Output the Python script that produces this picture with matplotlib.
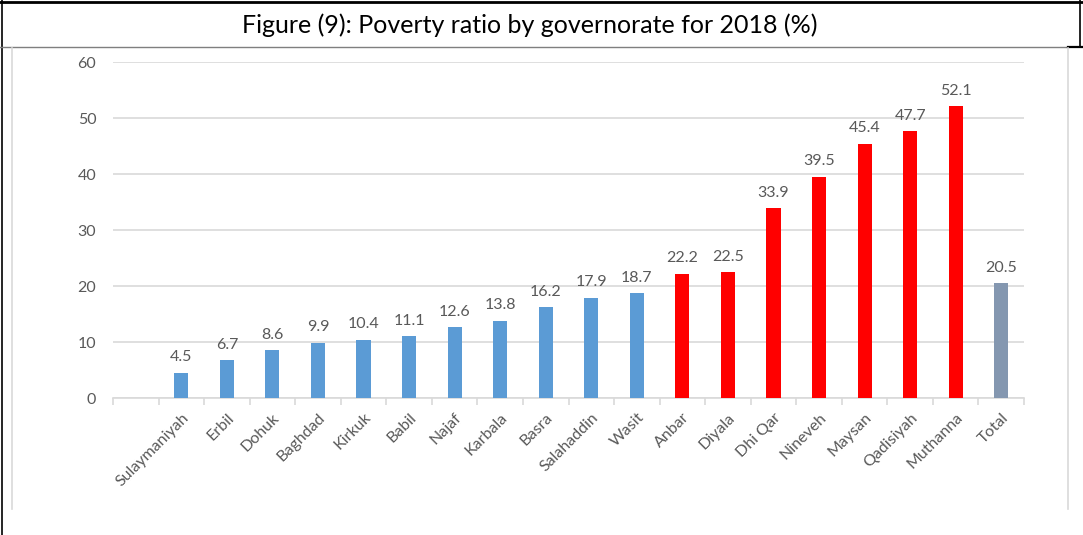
import matplotlib.pyplot as plt
from matplotlib.lines import Line2D

plt.rcParams['font.family'] = ['Lato', 'DejaVu Sans']

governorates = ["Sulaymaniyah", "Erbil", "Dohuk", "Baghdad", "Kirkuk", "Babil", "Najaf",
                "Karbala", "Basra", "Salahaddin", "Wasit", "Anbar", "Diyala", "Dhi Qar",
                "Nineveh", "Maysan", "Qadisiyah", "Muthanna", "Total"]
poverty = [4.5, 6.7, 8.6, 9.9, 10.4, 11.1, 12.6, 13.8, 16.2, 17.9, 18.7,
           22.2, 22.5, 33.9, 39.5, 45.4, 47.7, 52.1, 20.5]
group = ["low"] * 11 + ["high"] * 7 + ["total"]

colours = {"low": "#5B9BD5", "high": "#FF0000", "total": "#8497B0"}
grey_text = "#595959"
grid_c = "#D9D9D9"

W, H = 1083, 535
fig = plt.figure(figsize=(W / 100, H / 100), dpi=100)
ax = fig.add_axes([113 / W, (H - 398) / H, 911 / W, 336 / H])

# first slot on the axis is left empty, like the original
xpos = list(range(1, len(governorates) + 1))
bars = ax.bar(xpos, poverty, width=0.31, color=[colours[g] for g in group], zorder=3)
for b, v in zip(bars, poverty):
    ax.annotate(f"{v}", (b.get_x() + b.get_width() / 2, v), xytext=(0, 6),
                textcoords="offset points", ha="center", va="bottom",
                fontsize=11.5, color=grey_text)

ax.set_xlim(-0.5, len(governorates) + 0.5)
ax.set_ylim(0, 60)
ax.set_yticks(range(0, 61, 10))
ax.yaxis.grid(True, color=grid_c, linewidth=1.2, zorder=0)
ax.tick_params(axis="y", length=0, pad=12, labelsize=11.5, labelcolor=grey_text)

# tick marks between categories, labels at the centres
ax.set_xticks([i - 0.5 for i in range(len(governorates) + 2)])
ax.set_xticklabels([])
ax.tick_params(axis="x", which="major", length=5, color=grid_c, width=1.2)
ax.set_xticks(xpos, minor=True)
ax.set_xticklabels(governorates, minor=True, rotation=45, ha="right",
                   rotation_mode="anchor", fontsize=11.5, color=grey_text)
ax.tick_params(axis="x", which="minor", length=0, pad=9)

for s in ["top", "right", "left"]:
    ax.spines[s].set_visible(False)
ax.spines["bottom"].set_color(grid_c)
ax.spines["bottom"].set_linewidth(1.2)

# title row and the table borders around the chart
fig.text(530 / W, 1 - 25 / H, "Figure (9): Poverty ratio by governorate for 2018 (%)",
         ha="center", va="center", fontsize=18, color="black")


def px_line(x0, y0, x1, y1, c, lw):
    fig.add_artist(Line2D([x0 / W, x1 / W], [1 - y0 / H, 1 - y1 / H],
                          color=c, linewidth=lw, transform=fig.transFigure))


px_line(0, 1.5, W, 1.5, "black", 2.0)
px_line(1.5, 0, 1.5, H, "black", 1.2)
px_line(1080, 0, 1080, 47, "black", 1.2)
px_line(0, 47, 1068, 47, "#7f7f7f", 1.0)
px_line(1068, 47, W, 47, "black", 1.6)
px_line(12, 48, 12, 509, grid_c, 1.2)
px_line(1068, 48, 1068, 509, grid_c, 1.2)

fig.savefig("out.png", dpi=100)
